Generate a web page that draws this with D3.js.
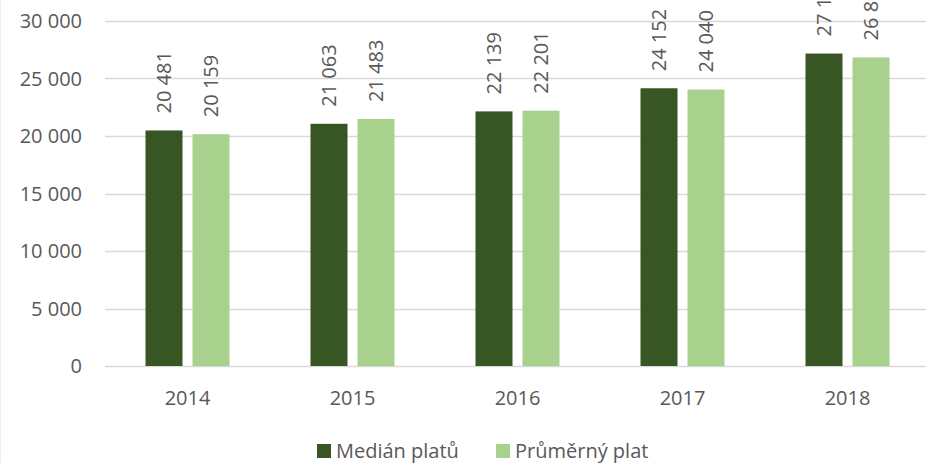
<!DOCTYPE html>
<html>
<head>
<meta charset="utf-8">
<script src="https://cdn.jsdelivr.net/npm/d3@7"></script>
<style>
  body { margin: 0; background: #fff; }
  text { font-family: "Open Sans", sans-serif; fill: #595959; }
</style>
</head>
<body>
<script>
// data
const years = ["2014", "2015", "2016", "2017", "2018"];
const median = [20481, 21063, 22139, 24152, 27169];
const average = [20159, 21483, 22201, 24040, 26833];
const seriesNames = ["Medián platů", "Průměrný plat"];
const seriesColors = ["#375623", "#a9d18e"];
const yTicks = [0, 5000, 10000, 15000, 20000, 25000, 30000];

const W = 926, H = 463;
const fmt = v => d3.format(",")(v).replace(/,/g, " ");

const svg = d3.select("body").append("svg")
    .attr("width", W)
    .attr("height", H);

// faint chart border, only the left edge is in view
svg.append("line")
    .attr("x1", 0.5).attr("x2", 0.5)
    .attr("y1", 0).attr("y2", H)
    .attr("stroke", "#ececec");

const x = d3.scaleBand().domain(years).range([105, 930]);
const y = d3.scaleLinear().domain([0, 30000]).range([366, 21]);

// gridlines
svg.append("g")
    .selectAll("line")
    .data(yTicks)
    .enter()
    .append("line")
    .attr("x1", 105).attr("x2", 930)
    .attr("y1", d => Math.round(y(d)) + 0.5)
    .attr("y2", d => Math.round(y(d)) + 0.5)
    .attr("stroke", "#d9d9d9")
    .attr("stroke-width", 1.3);

// y tick labels
svg.append("g")
    .selectAll("text")
    .data(yTicks)
    .enter()
    .append("text")
    .attr("x", 82)
    .attr("y", d => y(d))
    .attr("dy", "0.36em")
    .attr("text-anchor", "end")
    .style("font-size", "20px")
    .text(d => fmt(d));

// x labels
svg.append("g")
    .selectAll("text")
    .data(years)
    .enter()
    .append("text")
    .attr("x", d => x(d) + x.bandwidth() / 2)
    .attr("y", 398)
    .attr("dy", "0.36em")
    .attr("text-anchor", "middle")
    .style("font-size", "20px")
    .text(d => d);

const barW = 37, gap = 10;
const series = [median, average];

series.forEach(function (vals, s) {
    const off = s === 0 ? -gap / 2 - barW : gap / 2;
    const g = svg.append("g");

    g.selectAll("rect")
        .data(vals)
        .enter()
        .append("rect")
        .attr("x", (d, i) => x(years[i]) + x.bandwidth() / 2 + off)
        .attr("y", d => y(d))
        .attr("width", barW)
        .attr("height", d => y(0) - y(d))
        .attr("fill", seriesColors[s]);

    g.selectAll("text")
        .data(vals)
        .enter()
        .append("text")
        .attr("transform", (d, i) => {
            const cx = x(years[i]) + x.bandwidth() / 2 + off + barW / 2;
            return "translate(" + cx + "," + (y(d) - 17) + ") rotate(-90)";
        })
        .attr("dy", "0.36em")
        .attr("text-anchor", "start")
        .style("font-size", "20px")
        .text(d => fmt(d));
});

// legend
const legend = svg.append("g");
const legendX = [317, 496];
seriesNames.forEach(function (name, i) {
    legend.append("rect")
        .attr("x", legendX[i]).attr("y", 444)
        .attr("width", 14).attr("height", 14)
        .attr("fill", seriesColors[i]);
    legend.append("text")
        .attr("x", legendX[i] + 19)
        .attr("y", 451)
        .attr("dy", "0.36em")
        .style("font-size", "20px")
        .text(name);
});
</script>
</body>
</html>
